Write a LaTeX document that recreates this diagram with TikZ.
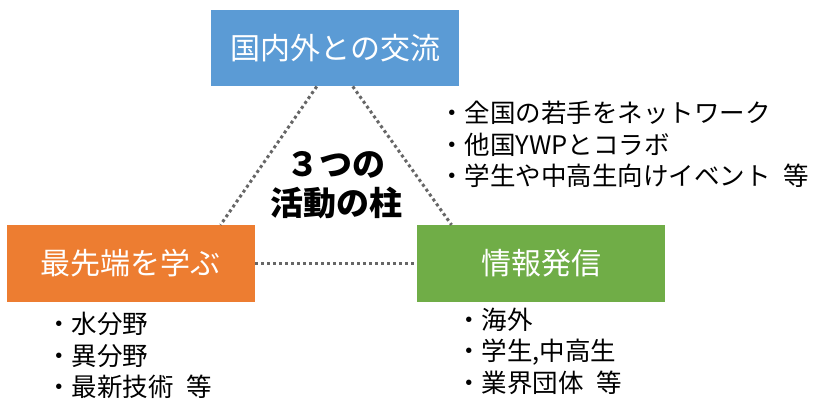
\documentclass[tikz,border=0pt]{standalone}
\usepackage{fontspec}
\newfontfamily\jp{Noto Sans CJK JP}
\usetikzlibrary{calc}
\definecolor{boxblue}{HTML}{5B9BD5}
\definecolor{boxorange}{HTML}{ED7D31}
\definecolor{boxgreen}{HTML}{70AD47}
\definecolor{dotgray}{HTML}{666666}
\newcommand{\gapsp}{\hspace{0.5em}}
\begin{document}
\begin{tikzpicture}[x=1pt,y=-1pt,
  pillar/.style={rectangle, inner sep=0, minimum width=248.5pt, minimum height=76.5pt,
    text=white, font=\jp\fontsize{30}{36}\selectfont},
  listtext/.style={anchor=north west, inner sep=0, align=left, text=black,
    font=\jp\fontsize{25.5}{31.5}\selectfont},
  link/.style={draw=dotgray, line width=3pt, dash pattern=on 3pt off 3pt}]
\useasboundingbox (0,0) rectangle (823,399);
\node[pillar, fill=boxblue] (kokusai) at (335.2,48) {国内外との交流};
\node[pillar, fill=boxorange] (manabu) at (131,263.3) {最先端を学ぶ};
\node[pillar, fill=boxgreen] (hasshin) at (541,263.3) {情報発信};
\draw[link] ([xshift=106pt]kokusai.south west) -- ([xshift=214pt]manabu.north west);
\draw[link] ([xshift=142pt]kokusai.south west) -- ([xshift=35pt]hasshin.north west);
\draw[link] (manabu.east) -- (hasshin.west);
\node[align=center, inner sep=0, font=\jp\bfseries\fontsize{33}{39}\selectfont] (center) at (336,185.5) {３つの\\活動の柱};
\node[listtext] (list1) at (439,101) {・全国の若手をネットワーク\\・他国YWPとコラボ\\・学生や中高生向けイベント\gapsp 等};
\node[listtext] (list2) at (46,312) {・水分野\\・異分野\\・最新技術\gapsp 等};
\node[listtext] (list3) at (456,307.5) {・海外\\・学生,中高生\\・業界団体\gapsp 等};
\end{tikzpicture}
\end{document}
